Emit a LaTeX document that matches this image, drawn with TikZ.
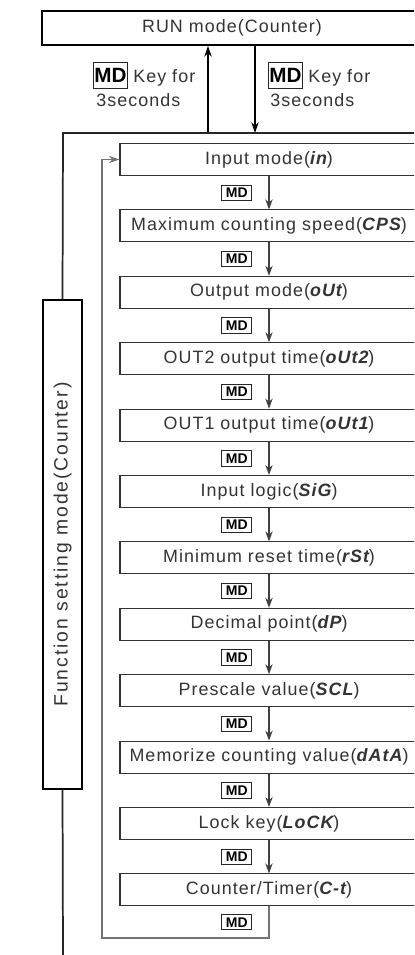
\documentclass[tikz,border=0pt]{standalone}
\usepackage{graphicx}
\usepackage{fontspec}
\setmainfont{Liberation Sans}[LetterSpace=6]
\newfontfamily\mdfont{Liberation Sans}
\newfontfamily\fsmfont{Liberation Sans}[LetterSpace=10]
\newfontfamily\segfont{Liberation Sans}[LetterSpace=6]
\usetikzlibrary{positioning,arrows.meta}

\newcommand{\seg}[1]{{\segfont\bfseries\itshape #1}}

\begin{document}
\begin{tikzpicture}[x=0.75pt,y=-0.75pt,
  txt/.style={text=black!80, font=\fontsize{13.4}{16}\selectfont},
  runbox/.style={draw=black, line width=1.5pt, minimum width=285pt, minimum height=25.5pt, inner sep=0pt, txt},
  stepbox/.style={draw=black!80, line width=0.8pt, minimum width=223.5pt, minimum height=24pt, inner sep=0pt, txt},
  fsmbox/.style={draw=black, line width=1.2pt, minimum width=29.25pt, minimum height=366.75pt, inner sep=0pt,
    text=black!80, font=\fsmfont\fontsize{14.5}{17}\selectfont},
  mdtag/.style={draw=black!85, line width=0.7pt, minimum width=22.5pt, minimum height=11.5pt, inner sep=0pt,
    font=\mdfont\bfseries\fontsize{10.5}{11}\selectfont},
  mdbig/.style={mdtag, line width=0.9pt, minimum width=26pt, minimum height=20pt,
    font=\mdfont\bfseries\fontsize{15.5}{16}\selectfont},
  flow/.style={draw=black!75, line width=0.8pt, -{Stealth[length=7.5pt,width=5.5pt]}},
  keyarrow/.style={draw=black, line width=0.8pt, -{Stealth[length=8pt,width=5.5pt]}},
  frameline/.style={draw=black!85, line width=1.3pt},
  returnline/.style={draw=black!55, line width=0.9pt, -{Stealth[length=8pt,width=5.5pt]}}]

\useasboundingbox (0,0) rectangle (414,955);
\clip (0,0) rectangle (414,955);

% run mode and the keys
\node[runbox] (run) at (232,28) {RUN mode(Counter)};
\coordinate (upx) at (208,133);
\coordinate (dnx) at (255,133);
\draw[keyarrow] (upx) -- (upx |- run.south);
\draw[keyarrow] (dnx |- run.south) -- (dnx);
\node[mdbig] (mdup) at (110.5,75.5) {MD};
\node[txt, anchor=base west, inner sep=0pt] (keyup) at (133,83) {Key for};
\node[txt, anchor=base west, inner sep=0pt] (secup) at (96,107) {3seconds};
\node[mdbig] (mddn) at (285.5,75.5) {MD};
\node[txt, anchor=base west, inner sep=0pt] (keydn) at (308,83) {Key for};
\node[txt, anchor=base west, inner sep=0pt] (secdn) at (270,107) {3seconds};

% function setting mode
\node[fsmbox] (fsm) at (62.5,544.5) {\rotatebox{90}{Function setting mode(Counter)}};
\coordinate (ftop) at (63,133);
\coordinate (fend) at (63,955);
\draw[frameline] (fsm.north) -- (ftop) -- ++(380,0);
\draw[frameline] (fsm.south) -- (fend);

% parameters
\foreach \lbl [count=\i from 0] in {Input mode(\seg{in}), Maximum counting speed(\seg{CPS}),
    Output mode(\seg{oUt}), OUT2 output time(\seg{oUt2}), OUT1 output time(\seg{oUt1}),
    Input logic(\seg{SiG}), Minimum reset time(\seg{rSt}), Decimal point(\seg{dP}),
    Prescale value(\seg{SCL}), Memorize counting value(\seg{dAtA}), Lock key(\seg{LoCK}),
    Counter/Timer(\seg{C-t})}
  \node[stepbox] (s\i) at (269,{159.5+66.4*\i}) {\lbl};

\foreach \i in {0,...,10}{
  \pgfmathtruncatemacro\j{\i+1}
  \draw[flow] (s\i) -- (s\j) node[midway, mdtag, left=12.5pt] {MD};
}

% back to the first one
\coordinate (turn) at (102,938);
\draw[returnline] (s11) -- (s11.south |- turn) node[midway, mdtag, left=12.5pt] {MD}
  -- (turn) |- (s0.west);
\end{tikzpicture}
\end{document}
